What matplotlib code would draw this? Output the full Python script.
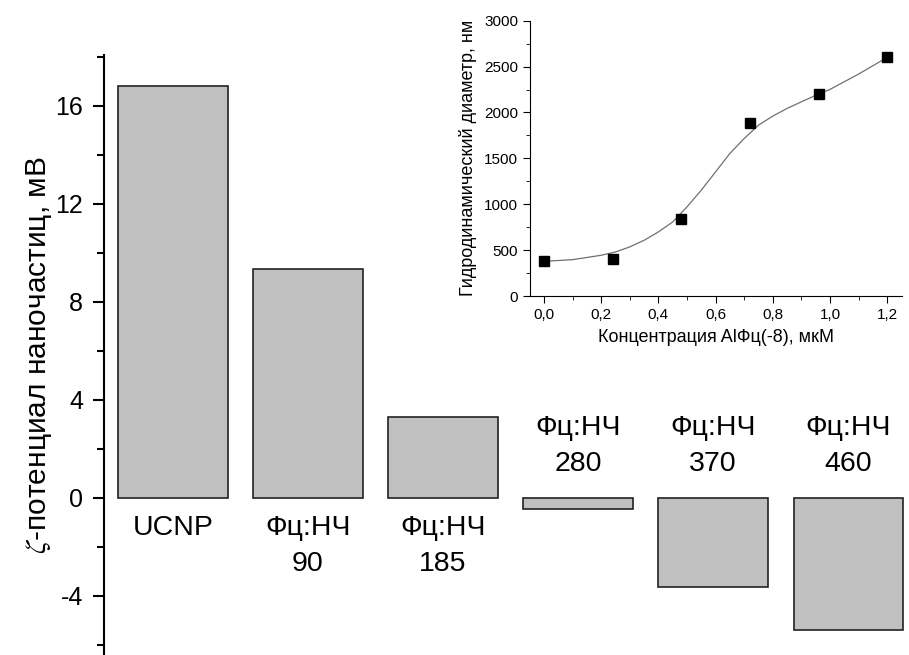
import numpy as np
import matplotlib
matplotlib.use("Agg")
import matplotlib.pyplot as plt
from matplotlib.ticker import MultipleLocator, FuncFormatter

plt.rcParams['font.family'] = ['Liberation Sans', 'DejaVu Sans']
plt.rcParams['axes.unicode_minus'] = False
plt.rcParams['mathtext.fontset'] = 'stix'

# main bar chart
labels = ["UCNP", "Фц:НЧ\n90", "Фц:НЧ\n185", "Фц:НЧ\n280", "Фц:НЧ\n370", "Фц:НЧ\n460"]
zeta = [16.8, 9.35, 3.3, -0.45, -3.63, -5.39]

# inset data
conc = [0.0, 0.24, 0.48, 0.72, 0.96, 1.2]
diam = [378, 407, 836, 1880, 2200, 2607]
# fitted curve
fit_x = [0.0, 0.1, 0.2, 0.25, 0.3, 0.35, 0.4, 0.45, 0.5, 0.55, 0.6, 0.65,
         0.7, 0.75, 0.8, 0.85, 0.9, 0.96, 1.0, 1.1, 1.2]
fit_y = [378, 396, 444, 480, 535, 607, 698, 807, 971, 1153, 1353, 1553,
         1716, 1862, 1960, 2044, 2116, 2200, 2251, 2418, 2600]

fig = plt.figure(figsize=(9.09, 6.55), dpi=100)
ax = fig.add_axes([104/909, 0, 1 - 104/909, 1 - 55/655])

pos = np.arange(1, len(zeta) + 1)
ax.bar(pos, zeta, width=0.81, color='#c0c0c0', edgecolor='#222222', linewidth=1.2)
ax.set_xlim(0.49, 6.45)
ax.set_ylim(-6.41, 18.08)

for s in ['top', 'right', 'bottom']:
    ax.spines[s].set_visible(False)
ax.spines['left'].set_linewidth(1.5)
ax.set_xticks([])
ax.yaxis.set_major_locator(MultipleLocator(4))
ax.yaxis.set_minor_locator(MultipleLocator(2))
ax.tick_params(axis='y', which='major', direction='out', length=8, width=1.5,
               labelsize=18, pad=7)
ax.tick_params(axis='y', which='minor', direction='out', length=5, width=1.5)
ax.set_ylabel(r"$\zeta$-потенциал наночастиц, мВ", fontsize=21.5, labelpad=1)

for p, v, lab in zip(pos, zeta, labels):
    if v >= 0:
        ax.text(p, -0.7, lab, ha='center', va='top', fontsize=20.5, linespacing=1.5)
    else:
        ax.text(p, 0.85, lab, ha='center', va='bottom', fontsize=20.5, linespacing=1.5)

# inset
ins = fig.add_axes([530/909, 1 - 296/655, (902 - 530)/909, (296 - 20.7)/655])
ins.plot(fit_x, fit_y, color='#707070', linewidth=0.9)
ins.plot(conc, diam, 's', color='black', markersize=6.5)
ins.set_xlim(-0.049, 1.252)
ins.set_ylim(0, 3000)
for s in ['top', 'right']:
    ins.spines[s].set_visible(False)
ins.xaxis.set_major_locator(MultipleLocator(0.2))
ins.xaxis.set_minor_locator(MultipleLocator(0.1))
ins.yaxis.set_major_locator(MultipleLocator(500))
ins.yaxis.set_minor_locator(MultipleLocator(250))
ins.xaxis.set_major_formatter(FuncFormatter(lambda v, _: f"{v:.1f}".replace('.', ',')))
ins.tick_params(which='major', direction='out', length=5, labelsize=11)
ins.tick_params(which='minor', direction='out', length=3)
ins.set_xlabel("Концентрация AlФц(-8), мкМ", fontsize=13, labelpad=5)
ins.set_ylabel("Гидродинамический диаметр, нм", fontsize=13, labelpad=5)

fig.savefig("out.png", dpi=100)
